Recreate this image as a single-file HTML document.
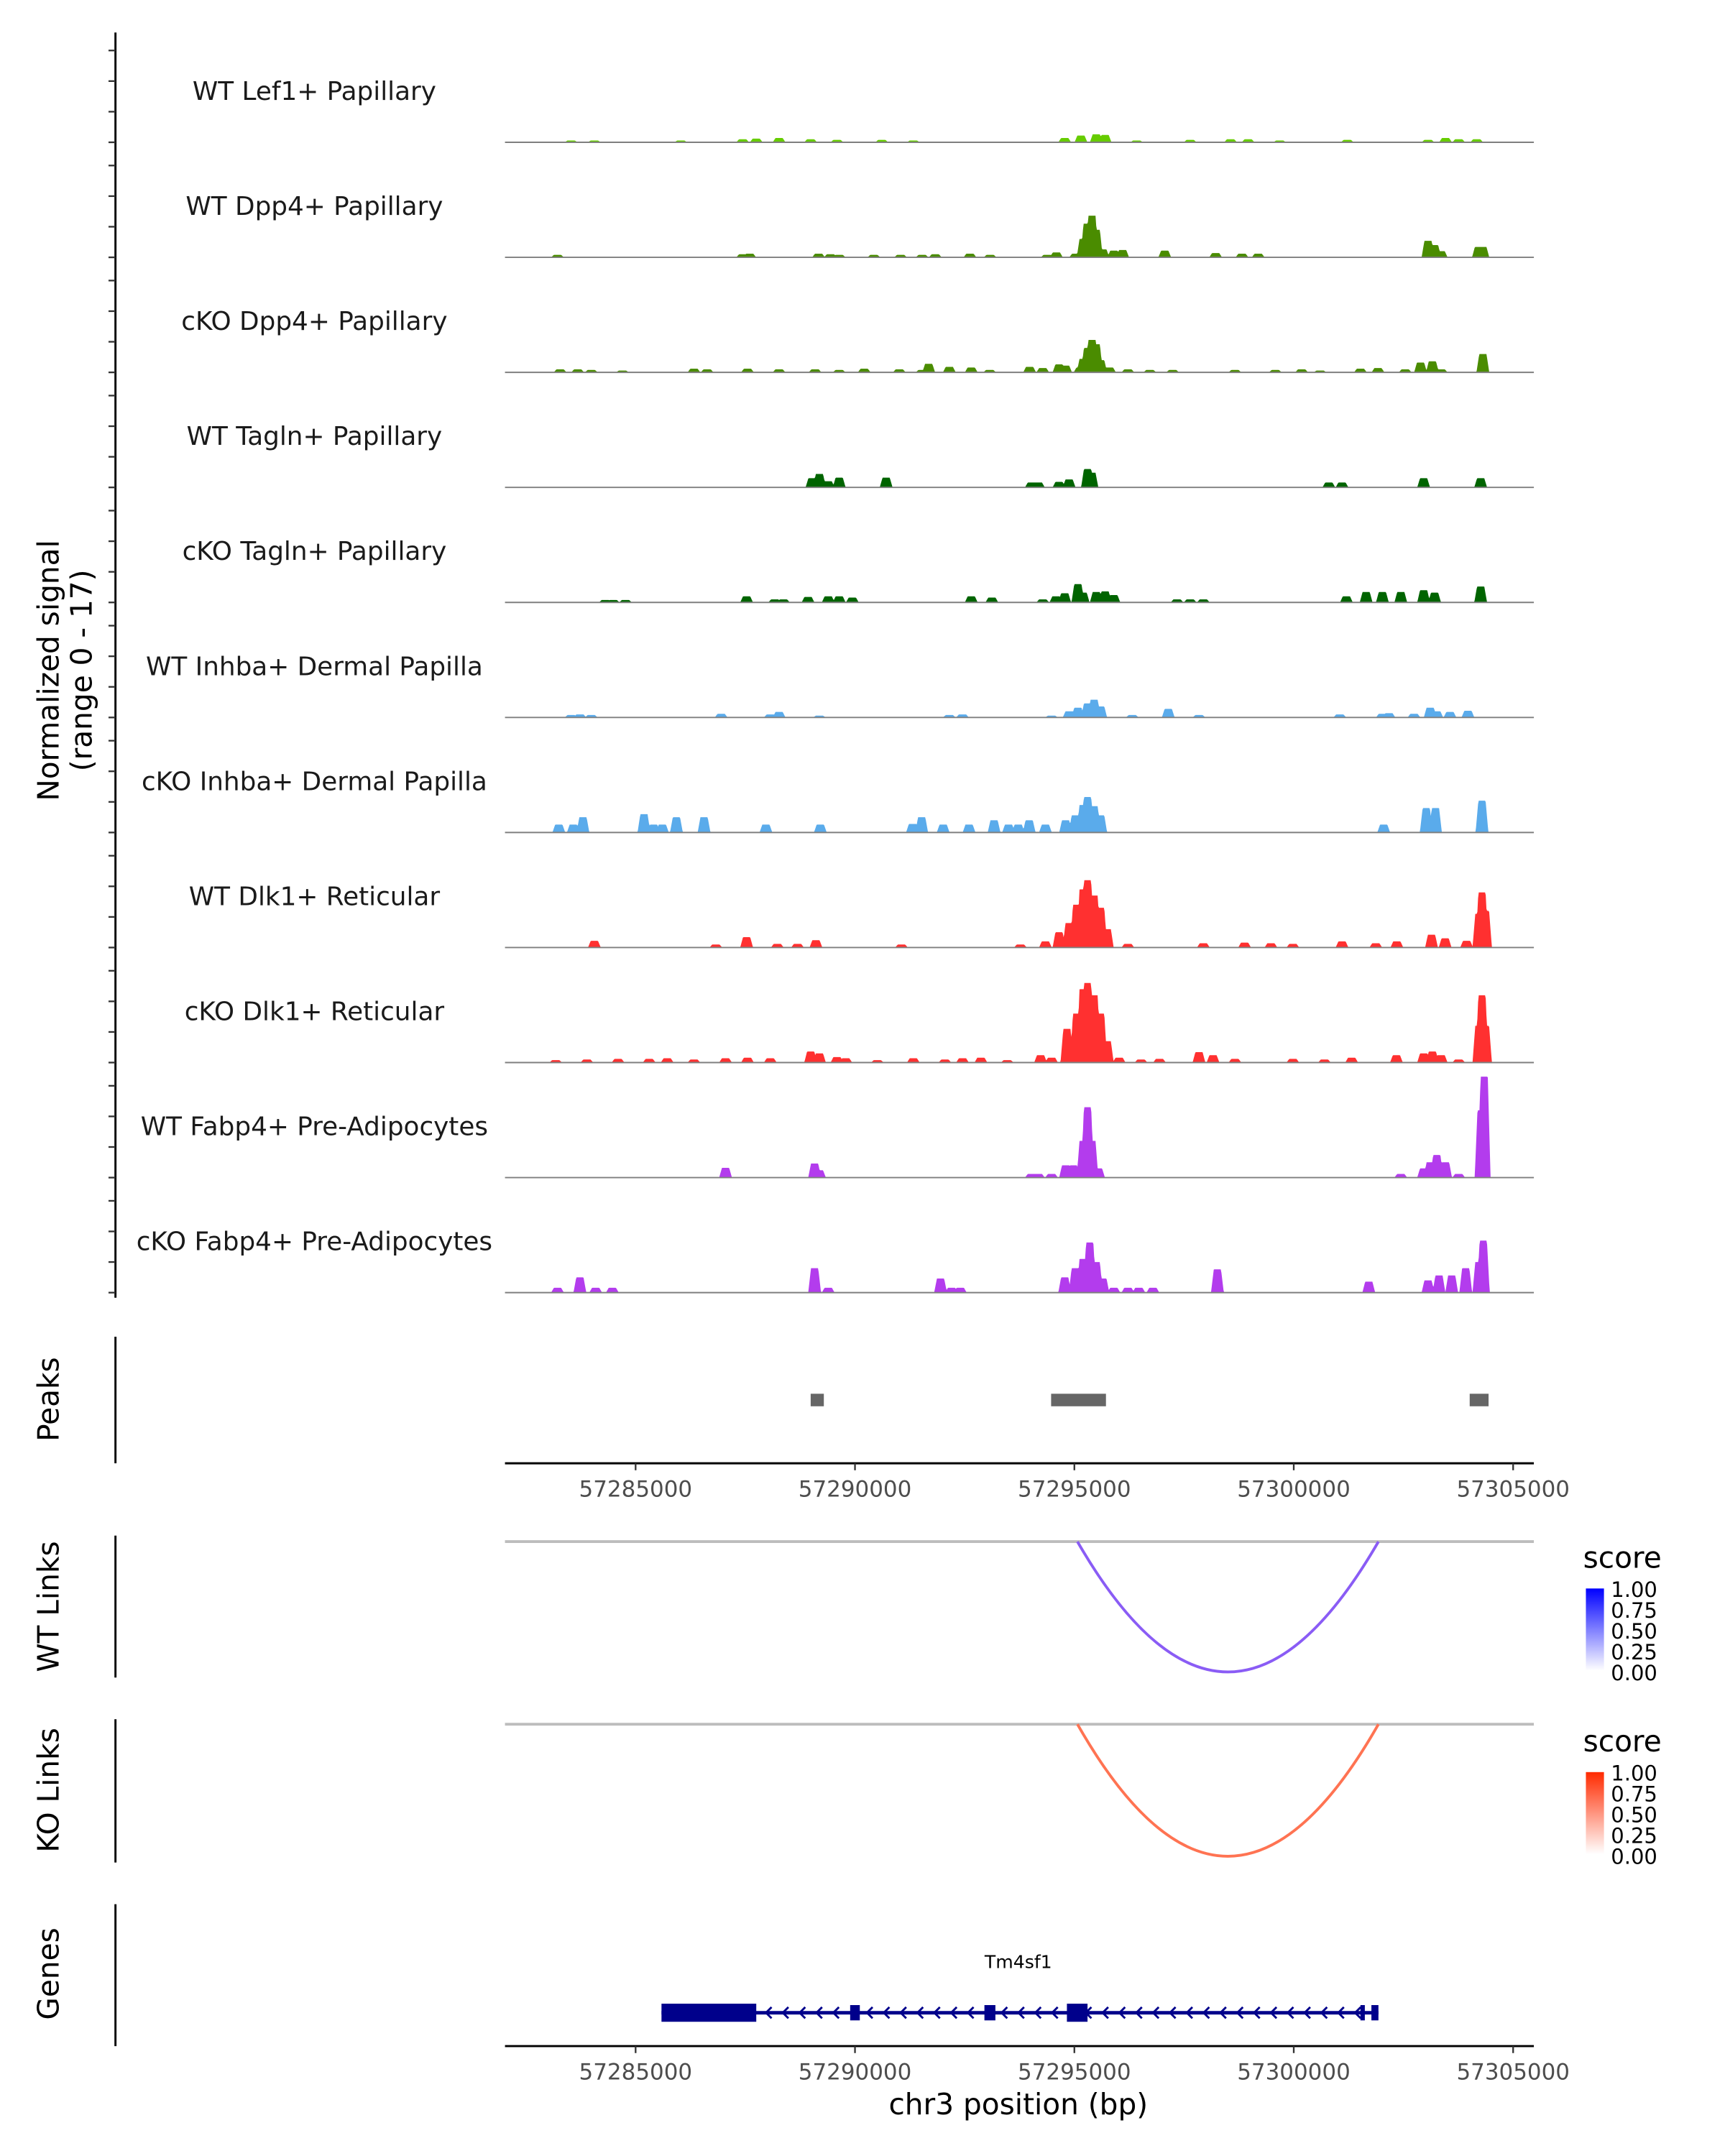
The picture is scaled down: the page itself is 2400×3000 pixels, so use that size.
<!DOCTYPE html>
<html><head><meta charset="utf-8">
<style>
html,body{margin:0;padding:0;background:#fff;}
svg{display:block;font-family:"DejaVu Sans","Liberation Sans",sans-serif;}
</style></head>
<body>
<svg id="chart" width="2400" height="3000" viewBox="0 0 1240 1550" xmlns="http://www.w3.org/2000/svg">
<defs>
<linearGradient id="gBlue" x1="0" y1="1" x2="0" y2="0"><stop offset="0" stop-color="#ffffff"/><stop offset="1" stop-color="#0000ff"/></linearGradient>
<linearGradient id="gRed" x1="0" y1="1" x2="0" y2="0"><stop offset="0" stop-color="#ffffff"/><stop offset="1" stop-color="#ff2a00"/></linearGradient>
</defs>
<g id="tracks"></g>
<line x1="83" y1="23.4" x2="83" y2="933" stroke="#000" stroke-width="1.5"/>
<g id="yticks"></g>
<text transform="translate(42,482) rotate(-90)" text-anchor="middle" font-size="21" fill="#000">Normalized signal</text>
<text transform="translate(66,482) rotate(-90)" text-anchor="middle" font-size="21" fill="#000">(range 0 - 17)</text>

<line x1="83" y1="961" x2="83" y2="1052" stroke="#000" stroke-width="1.5"/>
<text transform="translate(42,1006) rotate(-90)" text-anchor="middle" font-size="21">Peaks</text>
<g id="peaks"></g>
<g id="xaxis1"></g>

<line x1="83" y1="1104" x2="83" y2="1206" stroke="#000" stroke-width="1.5"/>
<text transform="translate(42,1155) rotate(-90)" text-anchor="middle" font-size="21">WT Links</text>
<line x1="363" y1="1108.3" x2="1102.6" y2="1108.3" stroke="#bdbdbd" stroke-width="2"/>
<g id="wtlinks"></g>
<text x="1138" y="1127" font-size="21">score</text>
<rect x="1140" y="1142" width="13" height="59" fill="url(#gBlue)"/>
<g font-size="15" fill="#000">
<text x="1158" y="1148">1.00</text><text x="1158" y="1163">0.75</text><text x="1158" y="1178">0.50</text><text x="1158" y="1193">0.25</text><text x="1158" y="1208">0.00</text></g>

<line x1="83" y1="1236" x2="83" y2="1339" stroke="#000" stroke-width="1.5"/>
<text transform="translate(42,1287) rotate(-90)" text-anchor="middle" font-size="21">KO Links</text>
<line x1="363" y1="1239.6" x2="1102.6" y2="1239.6" stroke="#bdbdbd" stroke-width="2"/>
<g id="kolinks"></g>
<text x="1138" y="1259" font-size="21">score</text>
<rect x="1140" y="1274" width="13" height="59" fill="url(#gRed)"/>
<g font-size="15" fill="#000">
<text x="1158" y="1280">1.00</text><text x="1158" y="1295">0.75</text><text x="1158" y="1310">0.50</text><text x="1158" y="1325">0.25</text><text x="1158" y="1340">0.00</text></g>

<line x1="83" y1="1369" x2="83" y2="1471" stroke="#000" stroke-width="1.5"/>
<text transform="translate(42,1419) rotate(-90)" text-anchor="middle" font-size="21">Genes</text>
<g id="genes"></g>
<text x="732" y="1415" text-anchor="middle" font-size="13">Tm4sf1</text>
<g id="xaxis2"></g>
<text x="732" y="1520" text-anchor="middle" font-size="21">chr3 position (bp)</text>
</svg>
<script>
// ---- data (positions in kb on chr3, signal values 0-17) ----
const trackNames=["WT Lef1+ Papillary","WT Dpp4+ Papillary","cKO Dpp4+ Papillary","WT Tagln+ Papillary","cKO Tagln+ Papillary","WT Inhba+ Dermal Papilla","cKO Inhba+ Dermal Papilla","WT Dlk1+ Reticular","cKO Dlk1+ Reticular","WT Fabp4+ Pre-Adipocytes","cKO Fabp4+ Pre-Adipocytes"];
const trackColors=["#66cc00","#4a8c00","#4a8c00","#006400","#006400","#5aabeb","#5aabeb","#ff3030","#ff3030","#b33ced","#b33ced"];
const t1Pos=[57283.53,57284.06,57286.03,57287.44,57287.75,57288.27,57288.99,57289.59,57290.61,57291.33,57294.78,57295.15,57295.50,57295.70,57296.42,57297.64,57298.56,57298.96,57299.68,57301.22,57303.06,57303.46,57303.76,57304.17];
const t1Val=[0.3,0.3,0.3,0.5,0.6,0.7,0.5,0.4,0.4,0.3,0.7,1.1,1.3,1.2,0.3,0.4,0.5,0.5,0.3,0.4,0.4,0.7,0.5,0.5];
const t2Pos=[57283.22,57287.44,57287.60,57289.17,57289.44,57289.64,57290.43,57291.04,57291.53,57291.83,57292.62,57293.08,57294.38,57294.59,57295.03,57295.20,57295.29,57295.40,57295.50,57295.65,57295.90,57296.10,57297.06,57298.22,57298.82,57299.19,57303.06,57303.21,57303.36,57304.21,57304.31];
const t2Val=[0.4,0.5,0.6,0.6,0.5,0.4,0.4,0.4,0.4,0.5,0.6,0.4,0.4,0.8,0.6,3,5.5,6.8,4.5,1.3,1.1,1.2,1.1,0.7,0.6,0.6,2.7,2.0,1.0,1.7,1.7];
const t3Pos=[57283.28,57283.68,57283.99,57284.70,57286.33,57286.63,57287.55,57288.27,57289.09,57289.64,57290.21,57291.01,57291.53,57291.68,57292.15,57292.65,57293.07,57293.98,57294.28,57294.65,57294.80,57295.13,57295.20,57295.30,57295.40,57295.50,57295.60,57295.80,57296.22,57296.72,57297.24,57298.66,57299.58,57300.18,57300.60,57301.52,57301.92,57302.54,57302.89,57303.16,57303.36,57304.31];
const t3Val=[0.5,0.5,0.4,0.3,0.6,0.5,0.6,0.5,0.5,0.4,0.6,0.5,0.4,1.4,0.9,0.8,0.4,0.9,0.7,1.3,1.1,0.8,2.2,4.0,5.3,4.6,2.0,0.8,0.5,0.4,0.4,0.4,0.4,0.5,0.3,0.6,0.7,0.5,1.6,1.8,0.5,3.0];
const t4Pos=[57289.02,57289.19,57289.39,57289.64,57290.71,57294.02,57294.18,57294.65,57294.88,57295.30,57295.40,57300.80,57301.10,57302.96,57304.26];
const t4Val=[1.5,2.2,1.0,1.6,1.6,0.8,0.8,0.9,1.3,3.0,2.4,0.8,0.8,1.5,1.5];
const t5Pos=[57284.31,57284.49,57284.77,57287.53,57288.17,57288.37,57288.93,57289.39,57289.64,57289.94,57292.65,57293.12,57294.28,57294.58,57294.78,57295.08,57295.20,57295.50,57295.70,57295.90,57297.34,57297.64,57297.94,57301.20,57301.65,57302.02,57302.44,57302.96,57303.21,57304.26];
const t5Val=[0.4,0.4,0.4,1.0,0.5,0.5,0.9,1.0,1.0,0.8,1.0,0.8,0.5,1.0,1.5,3.0,1.6,1.7,1.8,1.2,0.5,0.5,0.5,1.0,1.7,1.7,1.7,2.0,1.6,2.6];
const t6Pos=[57283.53,57283.73,57283.99,57286.95,57288.07,57288.27,57289.19,57292.15,57292.45,57294.48,57294.88,57295.08,57295.30,57295.45,57295.60,57296.32,57297.14,57297.84,57301.05,57302.02,57302.17,57302.74,57303.11,57303.26,57303.56,57303.97];
const t6Val=[0.4,0.5,0.4,0.6,0.5,0.9,0.3,0.4,0.5,0.3,1.0,1.6,2.3,2.9,1.8,0.4,1.4,0.4,0.5,0.6,0.7,0.6,1.6,1.0,0.9,1.1];
const t7Pos=[57283.25,57283.58,57283.80,57285.19,57285.41,57285.61,57285.93,57286.56,57287.97,57289.21,57291.31,57291.52,57292.01,57292.60,57293.17,57293.50,57293.72,57293.97,57294.34,57294.80,57295.02,57295.20,57295.30,57295.45,57295.60,57302.05,57303.02,57303.23,57304.29];
const t7Val=[1.3,1.3,2.5,3.0,1.3,1.3,2.5,2.5,1.3,1.3,1.4,2.5,1.3,1.3,2.0,1.3,1.3,2.0,1.3,2.0,2.8,4.5,5.8,4.3,2.8,1.3,4.0,4.0,5.2];
const t8Pos=[57284.06,57286.83,57287.53,57288.23,57288.69,57289.11,57291.06,57293.77,57294.34,57294.65,57294.88,57295.05,57295.20,57295.30,57295.45,57295.60,57295.75,57296.22,57297.94,57298.88,57299.48,57299.98,57301.10,57301.87,57302.35,57303.14,57303.45,57303.94,57304.22,57304.29,57304.37];
const t8Val=[1.1,0.5,1.7,0.6,0.6,1.2,0.5,0.5,1.0,2.5,4,7,9.5,11.0,8.5,6.5,3.0,0.6,0.7,0.8,0.7,0.6,1.0,0.7,1.0,2.1,1.5,1.1,5.5,9.0,6.0];
const t9Pos=[57283.18,57283.89,57284.60,57285.31,57285.72,57286.33,57287.05,57287.55,57288.07,57288.99,57289.19,57289.59,57289.79,57290.51,57291.33,57292.05,57292.45,57292.87,57293.47,57294.23,57294.48,57294.83,57295.05,57295.20,57295.30,57295.45,57295.60,57295.75,57296.02,57296.52,57296.94,57297.84,57298.16,57298.66,57299.98,57300.70,57301.32,57302.34,57302.96,57303.16,57303.36,57303.76,57304.22,57304.29,57304.37];
const t9Val=[0.4,0.5,0.6,0.6,0.7,0.5,0.7,0.8,0.7,1.8,1.5,0.9,0.7,0.4,0.7,0.5,0.7,0.8,0.4,1.2,0.8,5.5,8,12,13.0,11,8,3.5,0.8,0.5,0.6,1.7,1.2,0.6,0.6,0.5,0.8,1.2,1.5,1.8,1.2,0.5,6,11.0,6];
const t10Pos=[57287.05,57289.08,57289.19,57294.02,57294.18,57294.48,57294.80,57294.98,57295.20,57295.30,57295.40,57295.55,57302.44,57302.96,57303.11,57303.26,57303.46,57303.76,57304.27,57304.34];
const t10Val=[1.6,2.3,1.2,0.6,0.6,0.6,2.0,2.0,6,11.5,6,1.5,0.6,1.5,2.5,3.7,2.5,0.6,11,16.5];
const t11Pos=[57283.22,57283.73,57284.09,57284.47,57289.08,57289.39,57291.95,57292.20,57292.40,57294.78,57295.02,57295.20,57295.35,57295.50,57295.65,57295.90,57296.22,57296.47,57296.79,57298.26,57301.71,57303.06,57303.31,57303.60,57303.92,57304.22,57304.32];
const t11Val=[0.8,2.5,0.8,0.8,4.0,0.8,2.3,0.8,0.8,2.5,4.0,5.5,8.2,5.0,2.3,0.8,0.8,0.8,0.8,3.8,1.8,2.0,2.8,2.8,4.0,5,8.5];
const peakStarts=[57288.99,57294.47,57304.01];
const peakEnds=[57289.29,57295.72,57304.44];
const xTicks=[57285000,57290000,57295000,57300000,57305000];
const yTickVals=[0,5,10,15];
const geneStart=57285.59, geneEnd=57301.93;
const exonStarts=[57285.59,57289.89,57292.95,57294.83,57301.52,57301.77];
const exonEnds=[57287.75,57290.11,57293.2,57295.3,57301.62,57301.93];
const exonThick=[1,0,0,1,0,0];
const wtLinkStart=[57295.07], wtLinkEnd=[57301.93], wtLinkScore=[0.55];
const koLinkStart=[57295.07], koLinkEnd=[57301.93], koLinkScore=[0.55];

// ---- scales ----
const X0=363,X1=1102.6,PXKB=31.54,REF_KB=57285,REF_X=456.9;
function xs(kb){return REF_X+(kb-REF_KB)*PXKB;}
const YMAX=17, TRACK_H=74.8;
function ys(v,base){return base-v/YMAX*TRACK_H;}
const NS="http://www.w3.org/2000/svg";
function mk(tag,attrs,parent){const e=document.createElementNS(NS,tag);for(const k in attrs)e.setAttribute(k,attrs[k]);parent.appendChild(e);return e;}

const allPos=[t1Pos,t2Pos,t3Pos,t4Pos,t5Pos,t6Pos,t7Pos,t8Pos,t9Pos,t10Pos,t11Pos];
const allVal=[t1Val,t2Val,t3Val,t4Val,t5Val,t6Val,t7Val,t8Val,t9Val,t10Val,t11Val];
const trG=document.getElementById('tracks');
const yt=document.getElementById('yticks');
for(let t=0;t<11;t++){
  const base=102.3+t*82.7;
  const lab=mk('text',{x:226,y:base-30.5,'text-anchor':'middle','font-size':'18.5',fill:'#1a1a1a'},trG);
  lab.textContent=trackNames[t];
  
  
  const pos=allPos[t],val=allVal[t];
  let d='M'+X0+','+base;
  for(let px=X0;px<=X1;px+=0.5){
    let v=0;
    for(let i=0;i<pos.length;i++){
      const dist=Math.abs(px-xs(pos[i]));
      const hw=4.6;
      if(dist<hw){const f=dist<2.6?1:1-(dist-2.6)/(hw-2.6);v=Math.max(v,val[i]*f);}
    }
    d+=' L'+px+','+ys(v,base).toFixed(2);
  }
  d+=' L'+X1+','+base+' Z';
  const area=mk('path',{d:d,fill:trackColors[t]},trG);
  
  
  const bl=mk('line',{x1:X0,x2:X1,y1:base,y2:base,stroke:'#7f7f7f','stroke-width':1},trG);
  
  
  yTickVals.forEach(v=>{
    const y=ys(v,base);
    const tk=mk('line',{x1:78,x2:83,y1:y,y2:y,stroke:'#333','stroke-width':1.2},yt);
    
    
  });
}
const pk=document.getElementById('peaks');
for(let i=0;i<peakStarts.length;i++){
  const r=mk('rect',{x:xs(peakStarts[i]),y:1002,width:xs(peakEnds[i])-xs(peakStarts[i]),height:9,fill:'#666666'},pk);
  
  
}
function xAxis(g,y){
  mk('line',{x1:X0,x2:X1,y1:y,y2:y,stroke:'#000','stroke-width':1.5},g);
  xTicks.forEach(v=>{
    const x=xs(v/1000);
    mk('line',{x1:x,x2:x,y1:y,y2:y+5,stroke:'#333','stroke-width':1.2},g);
    const tx=mk('text',{x:x,y:y+24,'text-anchor':'middle','font-size':'16',fill:'#4d4d4d'},g);
    tx.textContent=String(v);
    
    
  });
}
xAxis(document.getElementById('xaxis1'),1052);
xAxis(document.getElementById('xaxis2'),1471);
function links(g,top,bottom,s,e,sc,col){
  for(let i=0;i<s.length;i++){
    const x1=xs(s[i]),x2=xs(e[i]);
    const c=2*bottom-top;
    const p=mk('path',{d:`M${x1},${top} Q${(x1+x2)/2},${c} ${x2},${top}`,fill:'none',stroke:col,'stroke-width':2},g);
    
    
  }
}
links(document.getElementById('wtlinks'),1108.3,1202,wtLinkStart,wtLinkEnd,wtLinkScore,'#8a5cf5');
links(document.getElementById('kolinks'),1239.6,1334.5,koLinkStart,koLinkEnd,koLinkScore,'#ff7352');
const gg=document.getElementById('genes');
const gy=1447, navy='#00008b';
mk('line',{x1:xs(geneStart),x2:xs(geneEnd),y1:gy,y2:gy,stroke:navy,'stroke-width':2.5},gg);
for(let x=xs(exonEnds[0])+8;x<xs(geneEnd)-6;x+=12.1){
  const a=mk('path',{d:`M${x+3},${gy-4} L${x-1},${gy} L${x+3},${gy+4}`,fill:'none',stroke:navy,'stroke-width':1.5},gg);
  
  
}
for(let i=0;i<exonStarts.length;i++){
  const h=exonThick[i]?13:11;
  const r=mk('rect',{x:xs(exonStarts[i]),y:gy-h/2,width:Math.max(2.5,xs(exonEnds[i])-xs(exonStarts[i])),height:h,fill:navy},gg);
  
  
}
</script>
</body></html>
